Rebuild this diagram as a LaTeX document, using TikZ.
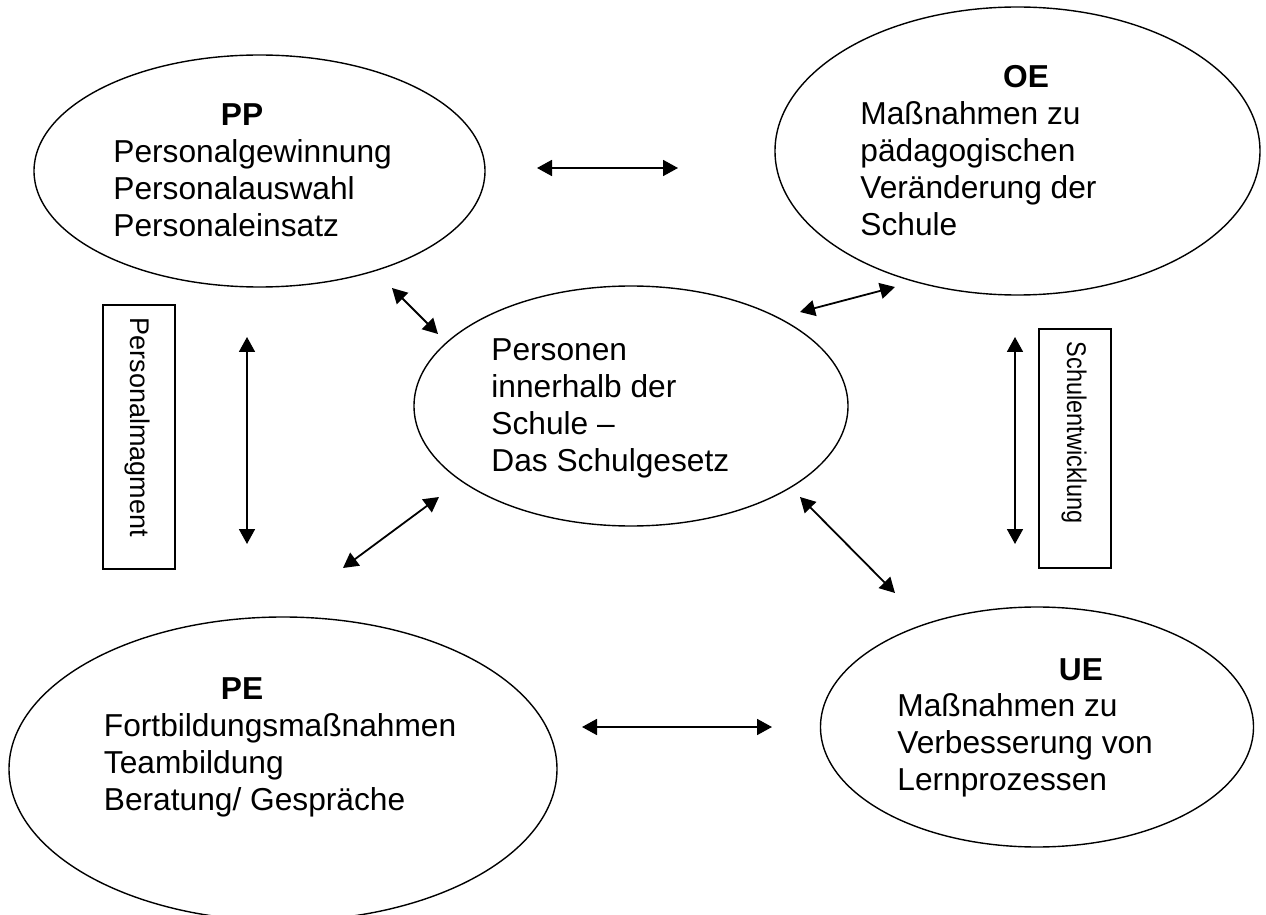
\documentclass[tikz,border=0pt]{standalone}
\usepackage{fontspec}
\setmainfont{Liberation Sans}
\usepackage{graphicx}
\usetikzlibrary{shapes.geometric,arrows.meta}
\tikzset{
  ell/.style={draw, ellipse, inner sep=0pt, line width=0.7pt},
  txt/.style={anchor=base west, align=left, inner sep=0pt, font=\fontsize{15.85pt}{18.5pt}\selectfont},
  head/.style={anchor=base, inner sep=0pt, font=\fontsize{15.85pt}{18.5pt}\selectfont\bfseries},
  sidebox/.style={draw, rectangle, line width=0.9pt, inner sep=0pt},
  sidelabel/.style={anchor=base, rotate=-90, inner sep=0pt, font=\fontsize{13.5pt}{16pt}\selectfont},
  biarrow/.style={{Triangle[length=7.5pt,width=8pt]}-{Triangle[length=7.5pt,width=8pt]}, line width=0.9pt}
}
\begin{document}
\begin{tikzpicture}[x=0.5pt, y=-0.5pt]
\clip (0,0) rectangle (1266,915);
\fill[white] (0,0) rectangle (1266,915);

% ellipses
\node[ell, minimum width=225.5pt, minimum height=116pt] (PP) at (259.5,171) {};
\node[ell, minimum width=242.5pt, minimum height=144pt] (OE) at (1017.5,151) {};
\node[ell, minimum width=217pt, minimum height=120pt] (C) at (631,406) {};
\node[ell, minimum width=274pt, minimum height=152pt] (PE) at (283,769) {};
\node[ell, minimum width=216.5pt, minimum height=120pt] (UE) at (1037,727) {};

% texts (base anchor = baseline of the last line)
\node[head] (PPh) at (242,126) {PP};
\node[txt] (PPt) at (113,237) {Personalgewinnung\\Personalauswahl\\Personaleinsatz};
\node[head] (OEh) at (1026,88) {OE};
\node[txt] (OEt) at (860,235) {Maßnahmen zu\\pädagogischen\\Veränderung der\\Schule};
\node[txt] (Ct) at (491,471) {Personen\\innerhalb der\\Schule –\\Das Schulgesetz};
\node[head] (PEh) at (242,699) {PE};
\node[txt] (PEt) at (103.5,810) {Fortbildungsmaßnahmen\\Teambildung\\Beratung/ Gespräche};
\node[head] (UEh) at (1081,680) {UE};
\node[txt] (UEt) at (897,790) {Maßnahmen zu\\Verbesserung von\\Lernprozessen};

% side boxes
\node[sidebox, minimum width=36pt, minimum height=132pt] (PMbox) at (139,437) {};
\node[sidelabel] (PMlab) at (130,427.5) {Personalmagment};
\node[sidebox, minimum width=36pt, minimum height=119.5pt] (SEbox) at (1075,448.5) {};
\node[sidelabel] (SElab) at (1067,432.5) {\scalebox{0.87}[1]{Schulentwicklung}};

% arrow end points
\coordinate (ppoeA) at (537,168);
\coordinate (ppoeB) at (678,168);
\coordinate (ppcA) at (392,288);
\coordinate (ppcB) at (438,334);
\coordinate (oecA) at (895,287);
\coordinate (oecB) at (800,312);
\coordinate (lvA) at (247,337);
\coordinate (lvB) at (247,544);
\coordinate (rvA) at (1015,337);
\coordinate (rvB) at (1015,544);
\coordinate (cpeA) at (439,497);
\coordinate (cpeB) at (343,568);
\coordinate (cueA) at (800,497);
\coordinate (cueB) at (895,593);
\coordinate (peueA) at (582,727);
\coordinate (peueB) at (772,727);

\draw[biarrow] (ppoeA) -- (ppoeB);
\draw[biarrow] (ppcA) -- (ppcB);
\draw[biarrow] (oecA) -- (oecB);
\draw[biarrow] (lvA) -- (lvB);
\draw[biarrow] (rvA) -- (rvB);
\draw[biarrow] (cpeA) -- (cpeB);
\draw[biarrow] (cueA) -- (cueB);
\draw[biarrow] (peueA) -- (peueB);
\end{tikzpicture}
\end{document}
